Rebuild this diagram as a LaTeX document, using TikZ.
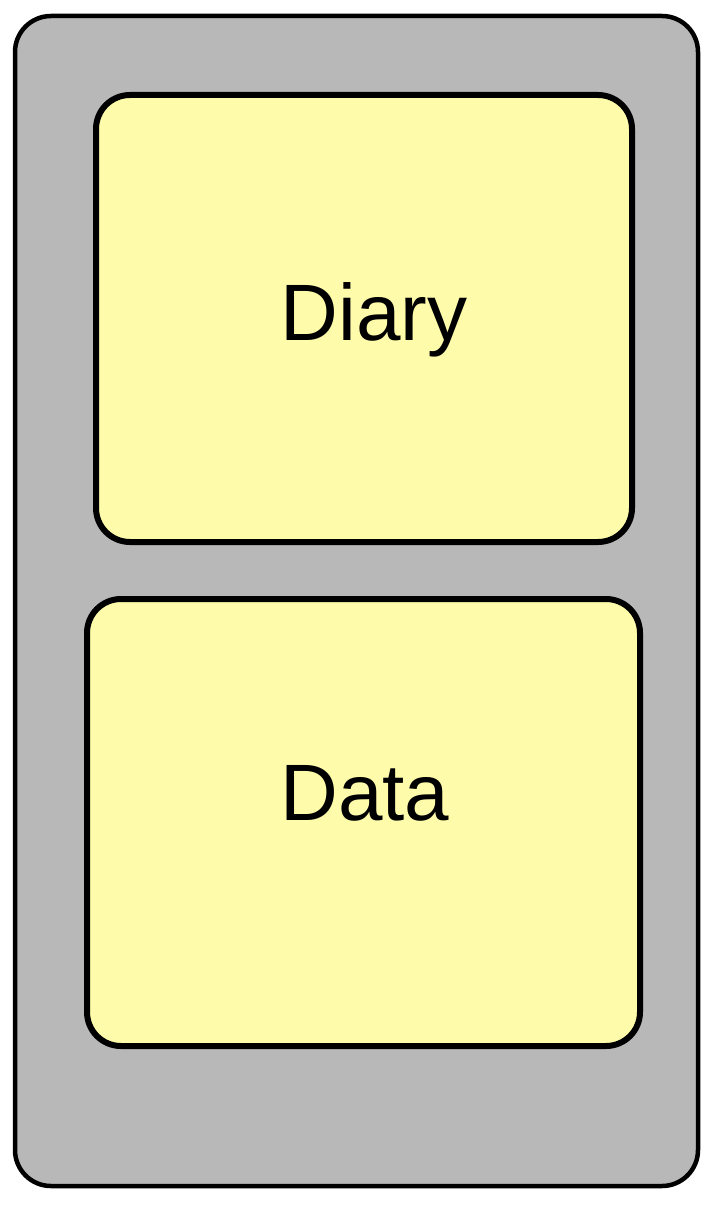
\documentclass[tikz,border=0pt]{standalone}
\usepackage{fontspec}
\setmainfont{Liberation Sans}
\definecolor{outerfill}{HTML}{B8B8B8}
\definecolor{innerfill}{HTML}{FEFCAA}
\begin{document}
\begin{tikzpicture}[x=1pt,y=-1pt,
  outerbox/.style={draw=black,line width=4.5pt,fill=outerfill,rounded corners=36pt},
  innerbox/.style={draw=black,line width=6pt,fill=innerfill,rounded corners=34pt},
  lbl/.style={font=\fontsize{80}{96}\selectfont,anchor=base,inner sep=0pt}]
\useasboundingbox (0,0) rectangle (718,1206);
\draw[outerbox] (15,16) rectangle (698,1186);
\draw[innerbox] (96,95) rectangle (632,542);
\draw[innerbox] (87,599) rectangle (640,1046);
\node[lbl] (diary) at (374,340) {Diary};
\node[lbl] (data) at (365,820) {Data};
\end{tikzpicture}
\end{document}
